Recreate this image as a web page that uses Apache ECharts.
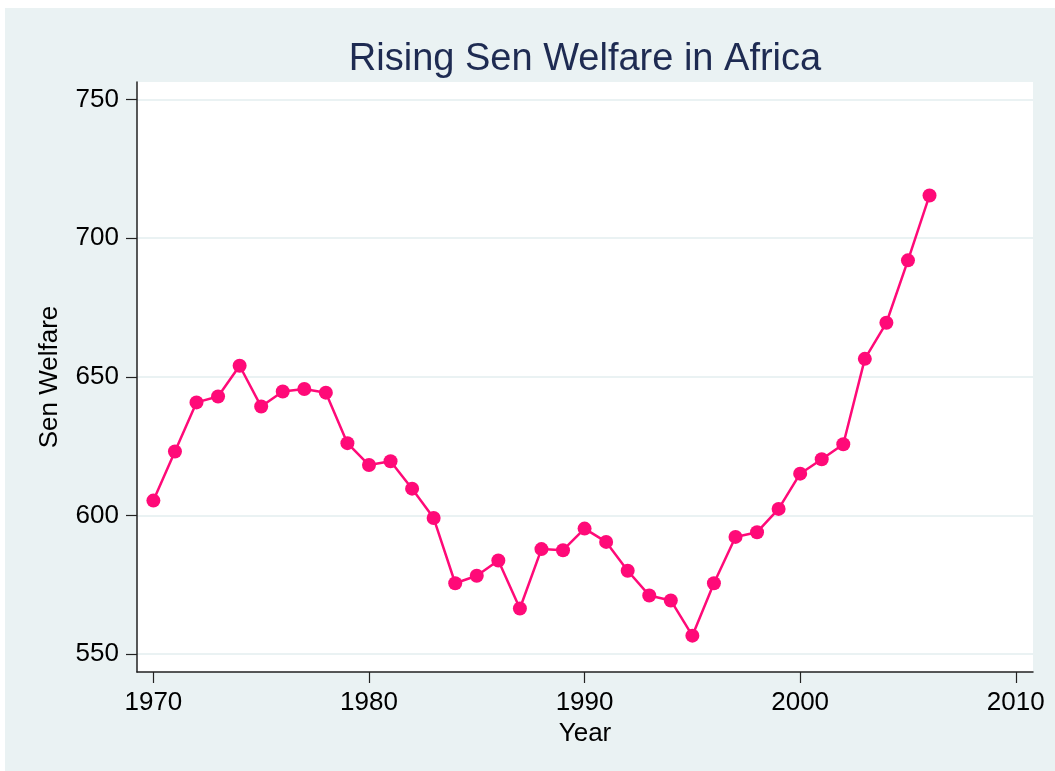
<!DOCTYPE html>
<html>
<head>
<meta charset="utf-8">
<script src="https://cdn.jsdelivr.net/npm/echarts@6/dist/echarts.min.js"></script>
<style>
  html, body { margin: 0; padding: 0; background: #ffffff; }
  #chart { width: 1055px; height: 771px; }
</style>
</head>
<body>
<div id="chart"></div>
<script>
// data
const years = [1970, 1971, 1972, 1973, 1974, 1975, 1976, 1977, 1978, 1979,
  1980, 1981, 1982, 1983, 1984, 1985, 1986, 1987, 1988, 1989,
  1990, 1991, 1992, 1993, 1994, 1995, 1996, 1997, 1998, 1999,
  2000, 2001, 2002, 2003, 2004, 2005, 2006];
const senWelfare = [605.4, 623.1, 640.8, 642.9, 654.0, 639.3, 644.7, 645.6, 644.3, 626.1,
  618.2, 619.6, 609.7, 599.1, 575.6, 578.3, 583.8, 566.5, 587.9, 587.5,
  595.3, 590.5, 580.1, 571.2, 569.4, 556.7, 575.6, 592.3, 594.0, 602.4,
  615.1, 620.3, 625.7, 656.5, 669.5, 692.0, 715.4];
const xTicks = [1970, 1980, 1990, 2000, 2010];
const yTicks = [550, 600, 650, 700, 750];

const chart = echarts.init(document.getElementById('chart'));
const font = '"Liberation Sans", Arial, sans-serif';
const axisFont = { fontFamily: font, fontSize: 26, color: '#000' };

const option = {
  backgroundColor: '#ffffff',
  animation: false,
  graphic: [
    // graph region and plot region fills
    { type: 'rect', z: -10, shape: { x: 5, y: 8, width: 1050, height: 763 }, style: { fill: '#eaf2f3' } },
    { type: 'rect', z: -9, shape: { x: 137, y: 82, width: 896, height: 590 }, style: { fill: '#ffffff' } }
  ],
  title: {
    text: 'Rising Sen Welfare in Africa',
    left: 580,
    top: 36,
    textAlign: 'center',
    textStyle: { fontFamily: font, fontSize: 38, fontWeight: 'normal', color: '#1e2b52' }
  },
  grid: { left: 137, right: 22, top: 82, bottom: 99 },
  xAxis: {
    type: 'value',
    min: 1969.24,
    max: 2010.8,
    name: 'Year',
    nameLocation: 'middle',
    nameGap: 42,
    nameTextStyle: axisFont,
    axisLine: { show: true, onZero: false, lineStyle: { color: '#222', width: 1.5 } },
    axisTick: { show: true, customValues: xTicks, length: 11, lineStyle: { color: '#222', width: 1.2 } },
    axisLabel: Object.assign({ customValues: xTicks, margin: 18, formatter: v => String(v) }, axisFont),
    splitLine: { show: false }
  },
  yAxis: {
    type: 'value',
    min: 543.6,
    max: 756.3,
    name: 'Sen Welfare',
    nameLocation: 'middle',
    nameRotate: 90,
    nameGap: 74,
    nameTextStyle: axisFont,
    axisLine: { show: true, onZero: false, lineStyle: { color: '#222', width: 1.5 } },
    axisTick: { show: true, customValues: yTicks, length: 11, lineStyle: { color: '#222', width: 1.2 } },
    axisLabel: Object.assign({ customValues: yTicks, margin: 18, formatter: v => String(v) }, axisFont),
    splitLine: { show: true, lineStyle: { color: '#eaf2f3', width: 2 } }
  },
  series: [{
    type: 'line',
    data: years.map((y, i) => [y, senWelfare[i]]),
    symbol: 'circle',
    symbolSize: 14,
    lineStyle: { color: '#ff0a78', width: 2.5 },
    itemStyle: { color: '#ff0a78' }
  }]
};

chart.setOption(option);
</script>
</body>
</html>
